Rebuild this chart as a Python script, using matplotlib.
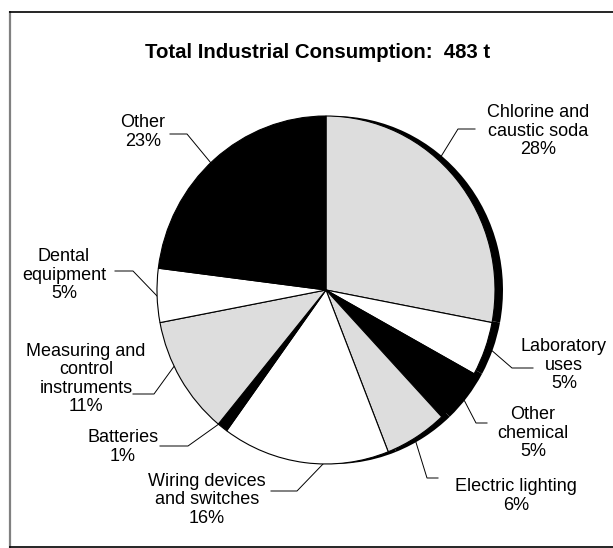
import math
import matplotlib
matplotlib.use('Agg')
import matplotlib.pyplot as plt

plt.rcParams['font.family'] = ['Liberation Sans', 'DejaVu Sans']

# Chart data, clockwise from 12 o'clock
categories = ['Chlorine and\ncaustic soda', 'Laboratory\nuses', 'Other\nchemical',
              'Electric lighting', 'Wiring devices\nand switches', 'Batteries',
              'Measuring and\ncontrol\ninstruments', 'Dental\nequipment', 'Other']
shares = [28, 5, 5, 6, 16, 1, 11, 5, 23]
title = 'Total Industrial Consumption:  483 t'

# Slice fills
fills = ['#dddddd', 'white', 'black', '#dddddd', 'white', 'black',
         '#dddddd', 'white', 'black']

# Layout in pixels (y down)
W, H = 613, 548
cx, cy = 326, 290
rx, ry = 169, 174
shadow = 8

# label centre, leader elbow, leader end, anchor angle on the pie edge
label_pos = [(538, 131), (564, 365), (533, 433), (516, 496), (207, 500),
             (123, 447), (86, 379), (64, 275), (143, 132)]
elbows = [(458, 129), (512, 368), (476, 423), (427, 478), (297, 491),
          (188, 446), (154, 394), (133, 271), (187, 134)]
ends = [(475, 129), (533, 368), (487, 423), (438, 478), (271, 491),
        (160, 446), (133, 394), (115, 271), (170, 134)]
anchor_angles = [50.5, -20.5, -39.5, -61, -91, -129.5, 206, 182, 133]

fig = plt.figure(figsize=(W / 100, H / 100), dpi=100)

# Full-figure axes in pixel units for text, leaders and frame
ax = fig.add_axes([0, 0, 1, 1])
ax.set_xlim(0, W)
ax.set_ylim(H, 0)
ax.axis('off')

# Frame (open on the right)
ax.plot([10, 10], [11, H], color='#808080', lw=1.6, solid_capstyle='butt')
ax.plot([9, W], [11.5, 11.5], color='black', lw=1.2, solid_capstyle='butt')
ax.plot([9, W], [547, 547], color='black', lw=1.2, solid_capstyle='butt')

# Pie in its own axes so it can be slightly taller than wide
pax = fig.add_axes([(cx - rx) / W, (H - cy - ry) / H, 2 * rx / W, 2 * ry / H])
pax.pie(shares, colors=['black'] * len(shares), startangle=90, counterclock=False,
        center=(shadow / rx, 0), wedgeprops=dict(linewidth=0))
pax.pie(shares, colors=fills, startangle=90, counterclock=False,
        wedgeprops=dict(edgecolor='black', linewidth=0.8))
pax.set_aspect('auto')
pax.set_xlim(-1, 1)
pax.set_ylim(-1, 1)
pax.axis('off')

# Labels and leader lines
for name, share, pos, elbow, end, ang in zip(categories, shares, label_pos,
                                             elbows, ends, anchor_angles):
    a = math.radians(ang)
    ax_x = cx + rx * math.cos(a) + (shadow if math.cos(a) > 0.05 else 0)
    ax_y = cy - ry * math.sin(a)
    ax.plot([ax_x, elbow[0], end[0]], [ax_y, elbow[1], end[1]],
            color='black', lw=0.7)
    ax.text(pos[0], pos[1], '%s\n%d%%' % (name, share), ha='center', va='center',
            multialignment='center', fontsize=13, linespacing=1.1)

ax.text(318, 53, title, ha='center', va='center', fontsize=14.7, fontweight='bold')

fig.savefig('out.png', dpi=100)
